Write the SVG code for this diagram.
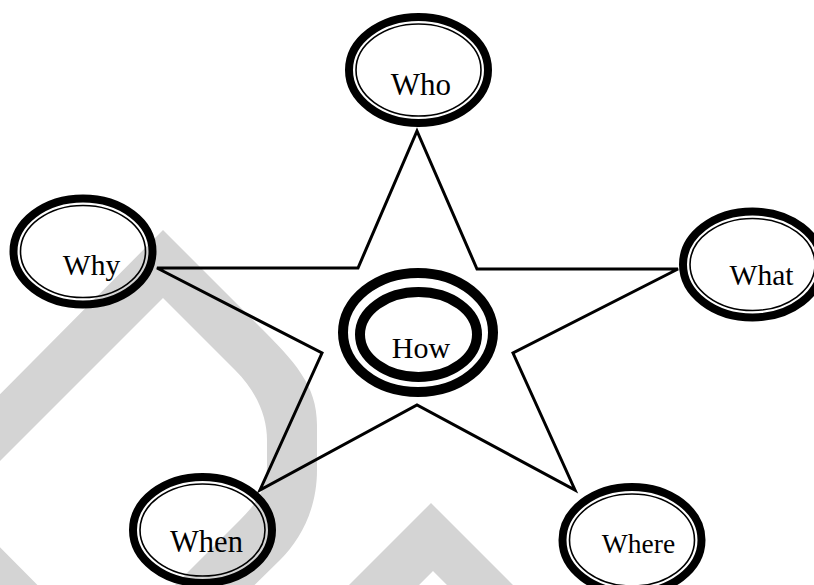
<svg xmlns="http://www.w3.org/2000/svg" width="814" height="585" viewBox="0 0 814 585">
<style>
.wm{fill:#d4d4d4;stroke:none}
.ring{fill:none;stroke:#000;stroke-width:8}
.thin{fill:none;stroke:#000;stroke-width:1.6}
.hring{fill:none;stroke:#000;stroke-width:10}
.lbl{font-family:"Liberation Serif","Times New Roman",serif;fill:#000;text-anchor:middle}
.star{fill:none;stroke:#000;stroke-width:3;stroke-linejoin:miter}
</style>
<rect width="814" height="585" fill="#fff"/>
<g id="watermark">
<path class="wm" fill-rule="evenodd" d="M -116 511 L 163 230 L 258 325 C 295 362 317 385 317 425 L 317 470 C 317 510 300 540 280 560 L 105 732 Z M -43 504 L 163 298 L 235 370 C 258 393 267 418 267 440 L 267 465 C 267 490 255 505 240 520 L 106 654 Z"/>
<polygon class="wm" points="331,603 431,503 531,603 465,603 433,571 401,603"/>
</g>
<g id="connectors">
<path class="star" d="M 417 131 L 477 269 L 678 269 L 513 353 L 575 490 L 417 405 L 260 490 L 322 353 L 157 268 L 358 268 Z"/>
</g>
<g id="who">
<ellipse class="ring" cx="418.5" cy="70" rx="69.5" ry="53"/>
<ellipse class="thin" cx="418.5" cy="70" rx="62.5" ry="46"/>
<text class="lbl" x="421" y="95" font-size="31">Who</text>
</g>
<g id="why">
<ellipse class="ring" cx="83" cy="251.5" rx="69.5" ry="53"/>
<ellipse class="thin" cx="83" cy="251.5" rx="62.5" ry="46"/>
<text class="lbl" x="91.5" y="275" font-size="29.5">Why</text>
</g>
<g id="what">
<ellipse class="ring" cx="752.5" cy="264.5" rx="69.5" ry="53"/>
<ellipse class="thin" cx="752.5" cy="264.5" rx="62.5" ry="46"/>
<text class="lbl" x="761.5" y="285" font-size="29.5">What</text>
</g>
<g id="how">
<ellipse class="hring" cx="418" cy="332.5" rx="75" ry="59.5"/>
<ellipse class="hring" cx="418.5" cy="334.5" rx="58.5" ry="42.5"/>
<text class="lbl" x="421" y="358" font-size="30">How</text>
</g>
<g id="when">
<ellipse class="ring" cx="202.5" cy="530" rx="69.5" ry="53"/>
<ellipse class="thin" cx="202.5" cy="530" rx="62.5" ry="46"/>
<text class="lbl" x="206.5" y="552" font-size="30.5">When</text>
</g>
<g id="where">
<ellipse class="ring" cx="632" cy="540" rx="69.5" ry="53"/>
<ellipse class="thin" cx="632" cy="540" rx="62.5" ry="46"/>
<text class="lbl" x="638.5" y="553" font-size="27.5">Where</text>
</g>
</svg>
